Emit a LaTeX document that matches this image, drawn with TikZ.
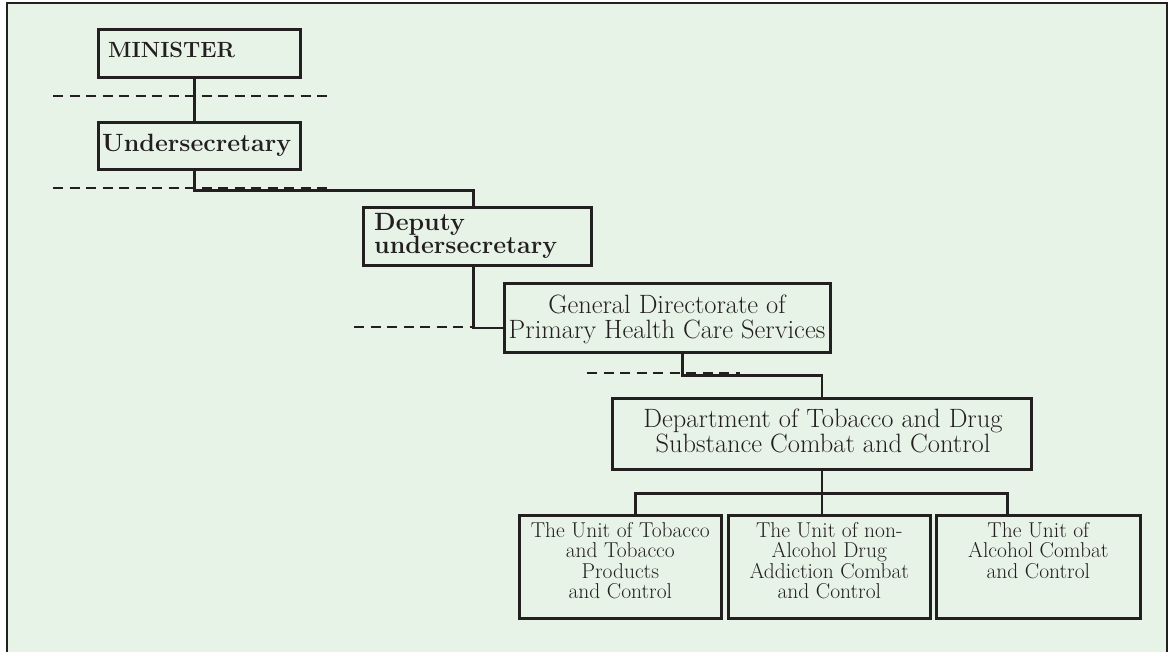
\documentclass[tikz,border=0pt]{standalone}
\usepackage{fontspec}
\definecolor{bgc}{RGB}{232,243,231}
\definecolor{linec}{RGB}{35,31,32}
\begin{document}
\begin{tikzpicture}[x=1pt,y=-1pt,
  box/.style={draw=linec,line width=2.6pt,inner sep=0pt,anchor=north west,minimum width=#1},
  conn/.style={draw=linec,line width=2.4pt},
  dashline/.style={draw=linec,line width=2.2pt,dash pattern=on 10pt off 6.5pt},
  framel/.style={draw=linec,line width=2pt},
  btext/.style={inner sep=0pt,text=linec,font=\fontsize{25}{23}\selectfont\bfseries,align=left},
  mtext/.style={inner sep=0pt,text=linec,font=\fontsize{26.5}{25}\selectfont,align=center},
  utext/.style={inner sep=0pt,text=linec,font=\fontsize{21.5}{20.5}\selectfont,align=center,anchor=north}]
\useasboundingbox (0,0) rectangle (1168,652);
\fill[bgc] (7,3) rectangle (1168,652);
\draw[framel] (7,660) -- (7,3) -- (1167,3) -- (1167,660);

% boxes
\node[box=202pt,minimum height=48pt] (min) at (97,28) {};
\node[box=202pt,minimum height=47pt] (und) at (97,121) {};
\node[box=228pt,minimum height=58pt] (dep) at (362,206) {};
\node[box=326pt,minimum height=69pt] (gd) at (503,282) {};
\node[box=419pt,minimum height=71pt] (dept) at (611,397) {};
\node[box=202pt,minimum height=103pt] (u1) at (518,514) {};
\node[box=202pt,minimum height=103pt] (u2) at (727,514) {};
\node[box=204pt,minimum height=103pt] (u3) at (935,514) {};

% texts
\node[btext,anchor=base west,font=\fontsize{22}{23}\selectfont\bfseries] (tmin) at (108,58) {MINISTER};
\node[btext,anchor=base west] (tund) at (102,152) {Undersecretary};
\node[btext,anchor=north west] (tdep) at (374,212.8) {Deputy\\undersecretary};
\node[mtext,anchor=north] (tgd) at (667,294.7) {General Directorate of\\Primary Health Care Services};
\node[mtext,anchor=north] (tdept) at (823,408.6) {Department of Tobacco and Drug\\Substance Combat and Control};
\node[utext] (tu1) at ([yshift=-8pt]u1.north) {The Unit of Tobacco\\and Tobacco\\Products\\and Control};
\node[utext] (tu2) at ([yshift=-8pt]u2.north) {The Unit of non-\\Alcohol Drug\\Addiction Combat\\and Control};
\node[utext] (tu3) at ([yshift=-8pt]u3.north) {The Unit of\\Alcohol Combat\\and Control};

% dashed level lines
\coordinate (d1a) at (53,96);  \coordinate (d1b) at (332,96);
\coordinate (d2a) at (53,188); \coordinate (d2b) at (332,188);
\coordinate (d3a) at (354,327); \coordinate (d3b) at (472,327);
\coordinate (d4a) at (587,373); \coordinate (d4b) at (740,373);
\draw[dashline] (d1a) -- (d1b);
\draw[dashline] (d2a) -- (d2b);
\draw[dashline] (d3a) -- (d3b);
\draw[dashline] (d4a) -- (d4b);

% connectors
\draw[conn] ([xshift=-5pt]min.south) -- ([xshift=-5pt]und.north);
\draw[conn] ([xshift=-5pt]und.south) -- ++(0,20) -| ([xshift=-4pt]dep.north);
\draw[conn] ([xshift=-4pt]dep.south) |- ([yshift=-10.5pt]gd.west);
\draw[conn] ([xshift=15pt]gd.south) -- ++(0,22) -| (dept.north);
\coordinate (bus) at ([yshift=-23pt]dept.south);
\draw[conn] (dept.south) -- (dept.south |- u2.north);
\draw[conn] ([xshift=15pt]u1.north) |- (bus) -| ([xshift=-31pt]u3.north);
\end{tikzpicture}
\end{document}
